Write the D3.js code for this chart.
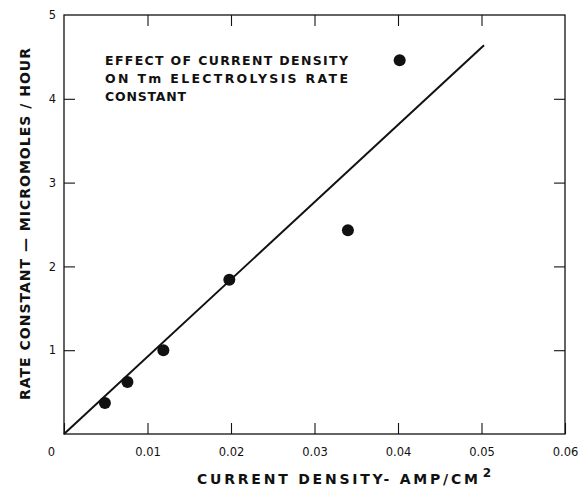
<!DOCTYPE html>
<html><head><meta charset="utf-8">
<script src="https://cdn.jsdelivr.net/npm/d3@7"></script>
<style>body{margin:0;background:#fff}svg{display:block}</style>
</head><body>
<svg id="c" width="578" height="488"></svg>
<script>
const currentDensity = [0.0049, 0.0076, 0.0119, 0.0198, 0.0340, 0.0402];
const rateConstant   = [0.37, 0.62, 1.00, 1.84, 2.43, 4.46];
const fitLineX = [0, 0.0503];
const fitLineY = [0, 4.64];
const xTicks = [0, 0.01, 0.02, 0.03, 0.04, 0.05, 0.06];
const xTickLabels = ["0", "0.01", "0.02", "0.03", "0.04", "0.05", "0.06"];
const yTicks = [1, 2, 3, 4, 5];
const yTickLabels = ["1", "2", "3", "4", "5"];
const noteLines = ["EFFECT OF CURRENT DENSITY", "ON Tm ELECTROLYSIS RATE", "CONSTANT"];
const xTitle = "CURRENT DENSITY- AMP/CM";
const yTitle = "RATE CONSTANT \u2014 MICROMOLES / HOUR";

const svg = d3.select("#c");
const L = 64, R = 565, T = 15, B = 434;
const x = d3.scaleLinear().domain([0, 0.06]).range([L, R]);
const y = d3.scaleLinear().domain([0, 5]).range([B, T]);
const font = "'DejaVu Sans', Arial, sans-serif";
const tk = 11;

// frame
svg.append("rect").attr("x", L).attr("y", T).attr("width", R - L).attr("height", B - T)
  .attr("fill", "none").attr("stroke", "#111").attr("stroke-width", 1.3);

const gx = svg.append("g").attr("transform", `translate(0,${B})`)
  .call(d3.axisBottom(x).tickValues(xTicks).tickSize(-tk).tickPadding(14)
    .tickFormat((d, i) => xTickLabels[i]));
const gxt = svg.append("g").attr("transform", `translate(0,${T})`)
  .call(d3.axisTop(x).tickValues(xTicks.slice(1, 6)).tickSize(-tk).tickFormat(""));
const gy = svg.append("g").attr("transform", `translate(${L},0)`)
  .call(d3.axisLeft(y).tickValues(yTicks).tickSize(-tk).tickPadding(8)
    .tickFormat((d, i) => yTickLabels[i]));
const gyr = svg.append("g").attr("transform", `translate(${R},0)`)
  .call(d3.axisRight(y).tickValues(yTicks.slice(0, 4)).tickSize(-tk).tickFormat(""));

[gx, gxt, gy, gyr].forEach(g => {
  g.select(".domain").remove();
  g.selectAll(".tick line").attr("stroke", "#111").attr("stroke-width", 1.1);
  g.selectAll("text").attr("font-family", font).attr("font-size", 11.5).attr("fill", "#111");
});
gx.selectAll(".tick").filter(d => d === 0).select("text").attr("dx", -13);
gy.selectAll(".tick").filter(d => d === 5).select("line").remove();

const lineData = fitLineX.map((v, i) => [v, fitLineY[i]]);
svg.append("path").datum(lineData)
  .attr("d", d3.line().x(d => x(d[0])).y(d => y(d[1])))
  .attr("fill", "none").attr("stroke", "#111").attr("stroke-width", 2);

svg.append("g").selectAll("circle").data(currentDensity).join("circle")
  .attr("cx", d => x(d)).attr("cy", (d, i) => y(rateConstant[i]))
  .attr("r", 6).attr("fill", "#111");

const noteW = [243, 243, 81];
svg.append("g").selectAll("text").data(noteLines).join("text")
  .attr("x", 105).attr("y", (d, i) => 65 + i * 18)
  .attr("font-family", font).attr("font-size", 12.5).attr("font-weight", 600).attr("fill", "#111")
  .attr("textLength", (d, i) => noteW[i]).attr("lengthAdjust", "spacing")
  .text(d => d);

const xt = svg.append("text").attr("x", 197).attr("y", 484)
  .attr("font-family", font).attr("font-size", 14).attr("font-weight", "bold").attr("fill", "#111");
xt.append("tspan").attr("textLength", 281).attr("lengthAdjust", "spacing").text(xTitle);
xt.append("tspan").attr("dx", 2).attr("dy", -7).attr("font-size", 12).text("2");

svg.append("text").attr("transform", `translate(30,224) rotate(-90)`)
  .attr("text-anchor", "middle")
  .attr("font-family", font).attr("font-size", 14).attr("font-weight", "bold").attr("fill", "#111")
  .attr("textLength", 352).attr("lengthAdjust", "spacing")
  .text(yTitle);
</script>
</body></html>
